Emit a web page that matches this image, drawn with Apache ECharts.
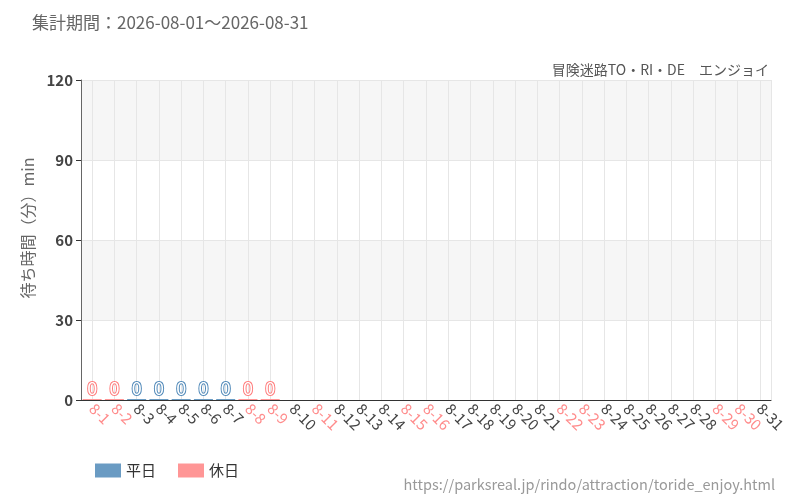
<!DOCTYPE html>
<html>
<head>
<meta charset="utf-8">
<script src="https://cdn.jsdelivr.net/npm/echarts@6/dist/echarts.min.js"></script>
<style>
  html, body { margin: 0; padding: 0; background: #fff; }
  #main { width: 800px; height: 500px; }
</style>
</head>
<body>
<div id="main"></div>
<script>
// 日付と待ち時間
const days = ['8-1','8-2','8-3','8-4','8-5','8-6','8-7','8-8','8-9','8-10','8-11','8-12','8-13','8-14','8-15','8-16',
  '8-17','8-18','8-19','8-20','8-21','8-22','8-23','8-24','8-25','8-26','8-27','8-28','8-29','8-30','8-31'];
const holidays = ['8-1','8-2','8-8','8-9','8-11','8-15','8-16','8-22','8-23','8-29','8-30'];
// 0 = 計測値, null = データなし
const waitTimes = [0, 0, 0, 0, 0, 0, 0, 0, 0, null, null, null, null, null, null, null,
  null, null, null, null, null, null, null, null, null, null, null, null, null, null, null];
const yTicks = [0, 30, 60, 90, 120];

const BLUE = '#6a9bc3';
const PINK = '#ff9696';
const font = '"Noto Sans CJK JP", "Noto Sans", sans-serif';

const weekdayData = days.map((d, i) => holidays.includes(d) || waitTimes[i] == null ? '-' : waitTimes[i]);
const holidayData = days.map((d, i) => !holidays.includes(d) || waitTimes[i] == null ? '-' : waitTimes[i]);

// 縦のグリッド線を日付の中央に引くための補助軸（半日刻み）
const halfSlots = [];
days.forEach(d => { halfSlots.push(d + 'a', d + 'b'); });

const label = (c) => ({
  show: true,
  position: 'top',
  distance: 2,
  fontSize: 18,
  fontFamily: font,
  color: '#fff',
  textBorderColor: c,
  textBorderWidth: 2
});

const chart = echarts.init(document.getElementById('main'));
chart.setOption({
  animation: false,
  textStyle: { fontFamily: font },
  title: [
    { text: '集計期間：2026-08-01～2026-08-31', left: 27, top: 9,
      textStyle: { fontSize: 17, fontWeight: 'normal', color: '#666', fontFamily: font } },
    { text: '冒険迷路TO・RI・DE　エンジョイ', right: 26, top: 58,
      textStyle: { fontSize: 14, fontWeight: 'normal', color: '#555', fontFamily: font } },
    { text: 'https://parksreal.jp/rindo/attraction/toride_enjoy.html', right: 20, top: 472,
      textStyle: { fontSize: 14.5, fontWeight: 'normal', color: '#999', fontFamily: font } }
  ],
  legend: {
    left: 90, top: 458,
    itemWidth: 26, itemHeight: 14, itemGap: 22,
    textStyle: { fontSize: 15, color: '#333', fontFamily: font },
    data: [
      { name: '平日', icon: 'rect', itemStyle: { color: BLUE } },
      { name: '休日', icon: 'rect', itemStyle: { color: PINK } }
    ]
  },
  grid: { left: 81, right: 29, top: 80, bottom: 100 },
  xAxis: [{
    type: 'category',
    data: days,
    boundaryGap: true,
    axisLine: { lineStyle: { color: '#333' } },
    axisTick: { alignWithLabel: true, lineStyle: { color: '#333' } },
    splitLine: { show: false },
    axisLabel: {
      interval: 0,
      rotate: -45,
      fontSize: 15,
      margin: 6,
      fontFamily: font,
      color: (v) => holidays.includes(v) ? '#ff8c8c' : '#444'
    }
  }, {
    type: 'category',
    data: halfSlots,
    position: 'bottom',
    boundaryGap: true,
    axisLine: { show: false },
    axisTick: { show: false },
    axisLabel: { show: false },
    splitLine: { show: true, interval: (i) => i % 2 === 1, lineStyle: { color: '#e6e6e6' } }
  }],
  yAxis: {
    type: 'value',
    min: yTicks[0], max: yTicks[yTicks.length - 1], interval: 30,
    name: '待ち時間（分）min',
    nameLocation: 'middle',
    nameGap: 45,
    nameTextStyle: { fontSize: 16, color: '#666', fontFamily: font, padding: [0, 0, 0, 24] },
    axisLine: { show: true, lineStyle: { color: '#666' } },
    axisTick: { show: true, lineStyle: { color: '#333' } },
    axisLabel: { fontSize: 15, fontWeight: 'bold', color: '#444', fontFamily: font },
    splitLine: { show: true, lineStyle: { color: '#e6e6e6' } },
    splitArea: { show: true, areaStyle: { color: ['#ffffff', '#f6f6f6'] } }
  },
  series: [
    { name: '平日', type: 'bar', stack: 'w', data: weekdayData, barWidth: 19, barMinHeight: 1,
      itemStyle: { color: BLUE }, label: label('#4f88b8') },
    { name: '休日', type: 'bar', stack: 'w', data: holidayData, barWidth: 19, barMinHeight: 1,
      itemStyle: { color: PINK }, label: label('#ff7a7a') }
  ]
});
</script>
</body>
</html>
